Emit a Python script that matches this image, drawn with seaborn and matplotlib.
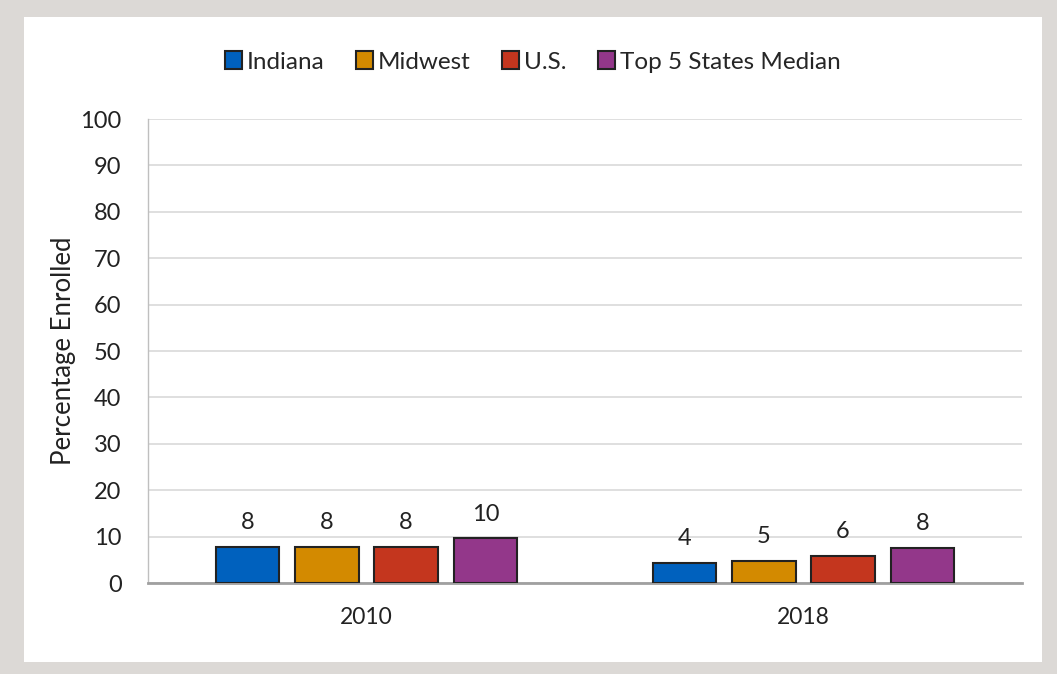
import pandas as pd
import matplotlib
matplotlib.use("Agg")
import matplotlib.pyplot as plt
from matplotlib.patches import Rectangle
import seaborn as sns

# Data
years = ["2010", "2018"]
regions = ["Indiana", "Midwest", "U.S.", "Top 5 States Median"]
values_2010 = [7.8, 7.8, 7.8, 9.6]
values_2018 = [4.3, 4.8, 5.8, 7.6]
labels_2010 = ["8", "8", "8", "10"]
labels_2018 = ["4", "5", "6", "8"]
colors = ["#0061BE", "#D38A00", "#C4361E", "#93378A"]

df = pd.DataFrame({
    "year": [y for y in years for _ in regions],
    "region": regions * len(years),
    "value": values_2010 + values_2018,
})

sns.set_style("white")
plt.rcParams["font.family"] = ["Lato", "DejaVu Sans"]

fig = plt.figure(figsize=(10.63, 6.74), dpi=100)
fig.patch.set_facecolor("white")
# grey frame around the chart area
fig.patches.append(Rectangle((0, 0), 1057 / 1063, 1, transform=fig.transFigure,
                             facecolor="#DCD9D6", edgecolor="none", zorder=-2))
fig.patches.append(Rectangle((24 / 1063, 12 / 674), 1018 / 1063, 645 / 674,
                             transform=fig.transFigure, facecolor="white",
                             edgecolor="none", zorder=-1))

ax = fig.add_axes([148 / 1063, 91 / 674, 874 / 1063, 464 / 674])
ax.set_facecolor("none")

sns.barplot(data=df, x="year", y="value", hue="region", palette=colors,
            width=0.725, gap=0.2, edgecolor="#222222", linewidth=1.5,
            saturation=1, ax=ax, zorder=3)

label_sets = [[labels_2010[i], labels_2018[i]] for i in range(len(regions))]
for container, labs in zip(ax.containers, label_sets):
    ax.bar_label(container, labels=labs, padding=10, fontsize=17, color="#222222")

ax.set_ylim(0, 100)
ax.set_yticks(range(0, 101, 10))
ax.yaxis.grid(True, color="#D9D9D9", linewidth=1.2, zorder=0)
ax.set_axisbelow(True)
ax.tick_params(axis="y", labelsize=17, length=0, pad=19, colors="#222222")
ax.tick_params(axis="x", labelsize=16.5, length=0, pad=17, colors="#222222")
ax.set_xlabel("")
ax.set_ylabel("Percentage Enrolled", fontsize=18.5, color="#222222", labelpad=3)

for s in ["top", "right"]:
    ax.spines[s].set_visible(False)
ax.spines["left"].set_color("#BFBFBF")
ax.spines["left"].set_linewidth(1)
ax.spines["bottom"].set_color("#A0A0A0")
ax.spines["bottom"].set_linewidth(2)

handles, lbls = ax.get_legend_handles_labels()
ax.legend(handles, lbls, loc="center", bbox_to_anchor=(533 / 1063, 1 - 62 / 674),
          bbox_transform=fig.transFigure, ncol=4,
          frameon=False, fontsize=17.5, handlelength=0.7, handleheight=0.7,
          handletextpad=0.2, columnspacing=1.3)

fig.savefig("out.png", dpi=100, facecolor=fig.get_facecolor())
